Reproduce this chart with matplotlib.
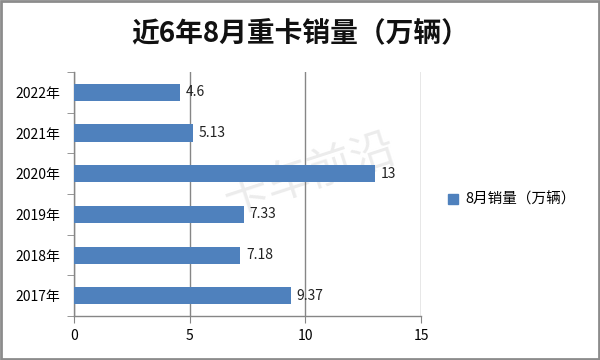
import matplotlib.pyplot as plt
import matplotlib.patches as mpatches

plt.rcParams['font.family'] = ['Noto Sans CJK SC', 'DejaVu Sans']

years = ['2017年', '2018年', '2019年', '2020年', '2021年', '2022年']
sales = [9.37, 7.18, 7.33, 13, 5.13, 4.6]
labels = ['9.37', '7.18', '7.33', '13', '5.13', '4.6']
xticks = [0, 5, 10, 15]

bar_color = '#4f81bd'
grid_color = '#868686'

fig = plt.figure(figsize=(6, 3.6), dpi=100)
ax = fig.add_axes([0.123, 0.122, 0.579, 0.678])

ypos = list(range(len(years)))
ax.barh(ypos, sales, height=0.42, color=bar_color, zorder=3)
for y, v, t in zip(ypos, sales, labels):
    ax.text(v + 0.25, y, t, va='center', ha='left', fontsize=10, color='#222222', zorder=4)

# faint watermark behind the bars
ax.text(0.68, 0.58, '卡车前沿', transform=ax.transAxes, ha='center', va='center',
        fontsize=32, rotation=18, color='#ececec', zorder=1)

ax.set_xlim(0, 15)
ax.set_ylim(-0.5, len(years) - 0.5)
ax.set_xticks(xticks)
ax.set_xticklabels([str(x) for x in xticks], fontsize=10)
ax.set_yticks(ypos)
ax.set_yticklabels(years, fontsize=10)
ax.tick_params(axis='y', length=0, pad=10)
ax.set_yticks([y + 0.5 for y in range(-1, len(years))], minor=True)
ax.tick_params(axis='y', which='minor', length=5, direction='out', color=grid_color)
ax.tick_params(axis='x', length=5, direction='out', color=grid_color, pad=4)
ax.xaxis.grid(True, color=grid_color, linewidth=1, zorder=0)
for s in ['top', 'right']:
    ax.spines[s].set_visible(False)
for s in ['left', 'bottom']:
    ax.spines[s].set_color(grid_color)
    ax.spines[s].set_linewidth(1)

fig.text(0.5, 0.905, '近6年8月重卡销量（万辆）', ha='center', va='center',
         fontsize=20, fontweight='bold', color='#111111')

handle = mpatches.Patch(color=bar_color, label='8月销量（万辆）')
fig.legend(handles=[handle], loc='center left', bbox_to_anchor=(0.725, 0.445),
           frameon=False, fontsize=10.5, handlelength=0.7, handleheight=0.7,
           handletextpad=0.5)

border = mpatches.Rectangle((0.002, 0.003), 0.996, 0.994, transform=fig.transFigure,
                            fill=False, edgecolor='#8c8c8c', linewidth=2)
fig.patches.append(border)

fig.savefig('out.png', dpi=100)
